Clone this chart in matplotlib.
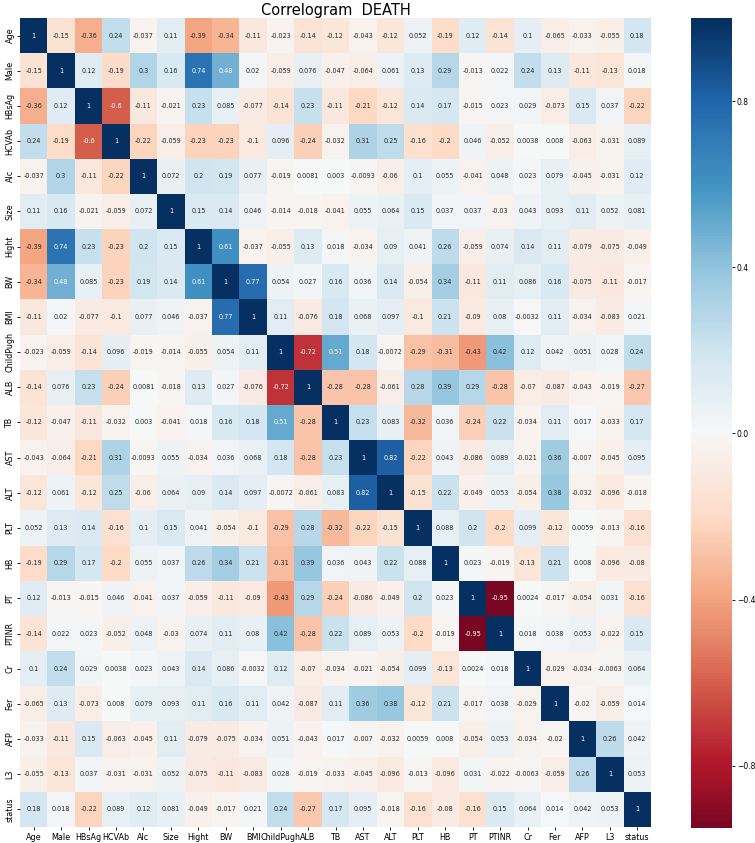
# -*- coding: utf-8 -*-
import numpy as np
import pandas as pd
import matplotlib
matplotlib.use('Agg')
import matplotlib.pyplot as plt
import seaborn as sns

# Variable names (rows / columns of the correlogram)
labels = ['Age', 'Male', 'HBsAg', 'HCVAb', 'Alc', 'Size', 'Hight', 'BW', 'BMI',
          'ChildPugh', 'ALB', 'TB', 'AST', 'ALT', 'PLT', 'HB', 'PT', 'PTINR',
          'Cr', 'Fer', 'AFP', 'L3', 'status']

# Correlation values, one row per variable
r_age = [1, -0.15, -0.36, 0.24, -0.037, 0.11, -0.39, -0.34, -0.11, -0.023, -0.14, -0.12, -0.043, -0.12, 0.052, -0.19, 0.12, -0.14, 0.1, -0.065, -0.033, -0.055, 0.18]
r_male = [-0.15, 1, 0.12, -0.19, 0.3, 0.16, 0.74, 0.48, 0.02, -0.059, 0.076, -0.047, -0.064, 0.061, 0.13, 0.29, -0.013, 0.022, 0.24, 0.13, -0.11, -0.13, 0.018]
r_hbsag = [-0.36, 0.12, 1, -0.6, -0.11, -0.021, 0.23, 0.085, -0.077, -0.14, 0.23, -0.11, -0.21, -0.12, 0.14, 0.17, -0.015, 0.023, 0.029, -0.073, 0.15, 0.037, -0.22]
r_hcvab = [0.24, -0.19, -0.6, 1, -0.22, -0.059, -0.23, -0.23, -0.1, 0.096, -0.24, -0.032, 0.31, 0.25, -0.16, -0.2, 0.046, -0.052, 0.0038, 0.008, -0.063, -0.031, 0.089]
r_alc = [-0.037, 0.3, -0.11, -0.22, 1, 0.072, 0.2, 0.19, 0.077, -0.019, 0.0081, 0.003, -0.0093, -0.06, 0.1, 0.055, -0.041, 0.048, 0.023, 0.079, -0.045, -0.031, 0.12]
r_size = [0.11, 0.16, -0.021, -0.059, 0.072, 1, 0.15, 0.14, 0.046, -0.014, -0.018, -0.041, 0.055, 0.064, 0.15, 0.037, 0.037, -0.03, 0.043, 0.093, 0.11, 0.052, 0.081]
r_hight = [-0.39, 0.74, 0.23, -0.23, 0.2, 0.15, 1, 0.61, -0.037, -0.055, 0.13, 0.018, -0.034, 0.09, 0.041, 0.26, -0.059, 0.074, 0.14, 0.11, -0.079, -0.075, -0.049]
r_bw = [-0.34, 0.48, 0.085, -0.23, 0.19, 0.14, 0.61, 1, 0.77, 0.054, 0.027, 0.16, 0.036, 0.14, -0.054, 0.34, -0.11, 0.11, 0.086, 0.16, -0.075, -0.11, -0.017]
r_bmi = [-0.11, 0.02, -0.077, -0.1, 0.077, 0.046, -0.037, 0.77, 1, 0.11, -0.076, 0.18, 0.068, 0.097, -0.1, 0.21, -0.09, 0.08, -0.0032, 0.11, -0.034, -0.083, 0.021]
r_childpugh = [-0.023, -0.059, -0.14, 0.096, -0.019, -0.014, -0.055, 0.054, 0.11, 1, -0.72, 0.51, 0.18, -0.0072, -0.29, -0.31, -0.43, 0.42, 0.12, 0.042, 0.051, 0.028, 0.24]
r_alb = [-0.14, 0.076, 0.23, -0.24, 0.0081, -0.018, 0.13, 0.027, -0.076, -0.72, 1, -0.28, -0.28, -0.061, 0.28, 0.39, 0.29, -0.28, -0.07, -0.087, -0.043, -0.019, -0.27]
r_tb = [-0.12, -0.047, -0.11, -0.032, 0.003, -0.041, 0.018, 0.16, 0.18, 0.51, -0.28, 1, 0.23, 0.083, -0.32, 0.036, -0.24, 0.22, -0.034, 0.11, 0.017, -0.033, 0.17]
r_ast = [-0.043, -0.064, -0.21, 0.31, -0.0093, 0.055, -0.034, 0.036, 0.068, 0.18, -0.28, 0.23, 1, 0.82, -0.22, 0.043, -0.086, 0.089, -0.021, 0.36, -0.007, -0.045, 0.095]
r_alt = [-0.12, 0.061, -0.12, 0.25, -0.06, 0.064, 0.09, 0.14, 0.097, -0.0072, -0.061, 0.083, 0.82, 1, -0.15, 0.22, -0.049, 0.053, -0.054, 0.38, -0.032, -0.096, -0.018]
r_plt = [0.052, 0.13, 0.14, -0.16, 0.1, 0.15, 0.041, -0.054, -0.1, -0.29, 0.28, -0.32, -0.22, -0.15, 1, 0.088, 0.2, -0.2, 0.099, -0.12, 0.0059, -0.013, -0.16]
r_hb = [-0.19, 0.29, 0.17, -0.2, 0.055, 0.037, 0.26, 0.34, 0.21, -0.31, 0.39, 0.036, 0.043, 0.22, 0.088, 1, 0.023, -0.019, -0.13, 0.21, 0.008, -0.096, -0.08]
r_pt = [0.12, -0.013, -0.015, 0.046, -0.041, 0.037, -0.059, -0.11, -0.09, -0.43, 0.29, -0.24, -0.086, -0.049, 0.2, 0.023, 1, -0.95, 0.0024, -0.017, -0.054, 0.031, -0.16]
r_ptinr = [-0.14, 0.022, 0.023, -0.052, 0.048, -0.03, 0.074, 0.11, 0.08, 0.42, -0.28, 0.22, 0.089, 0.053, -0.2, -0.019, -0.95, 1, 0.018, 0.038, 0.053, -0.022, 0.15]
r_cr = [0.1, 0.24, 0.029, 0.0038, 0.023, 0.043, 0.14, 0.086, -0.0032, 0.12, -0.07, -0.034, -0.021, -0.054, 0.099, -0.13, 0.0024, 0.018, 1, -0.029, -0.034, -0.0063, 0.064]
r_fer = [-0.065, 0.13, -0.073, 0.008, 0.079, 0.093, 0.11, 0.16, 0.11, 0.042, -0.087, 0.11, 0.36, 0.38, -0.12, 0.21, -0.017, 0.038, -0.029, 1, -0.02, -0.059, 0.014]
r_afp = [-0.033, -0.11, 0.15, -0.063, -0.045, 0.11, -0.079, -0.075, -0.034, 0.051, -0.043, 0.017, -0.007, -0.032, 0.0059, 0.008, -0.054, 0.053, -0.034, -0.02, 1, 0.26, 0.042]
r_l3 = [-0.055, -0.13, 0.037, -0.031, -0.031, 0.052, -0.075, -0.11, -0.083, 0.028, -0.019, -0.033, -0.045, -0.096, -0.013, -0.096, 0.031, -0.022, -0.0063, -0.059, 0.26, 1, 0.053]
r_status = [0.18, 0.018, -0.22, 0.089, 0.12, 0.081, -0.049, -0.017, 0.021, 0.24, -0.27, 0.17, 0.095, -0.018, -0.16, -0.08, -0.16, 0.15, 0.064, 0.014, 0.042, 0.053, 1]

rows = [r_age, r_male, r_hbsag, r_hcvab, r_alc, r_size, r_hight, r_bw, r_bmi,
        r_childpugh, r_alb, r_tb, r_ast, r_alt, r_plt, r_hb, r_pt, r_ptinr,
        r_cr, r_fer, r_afp, r_l3, r_status]

corr = pd.DataFrame(rows, index=labels, columns=labels)

# Figure and axes placement (pixels of a 755x843 canvas)
fig = plt.figure(figsize=(7.55, 8.43), dpi=100)
W, H = 755.0, 843.0
ax = fig.add_axes([20 / W, 1 - 827 / H, 631 / W, 809 / H])
cax = fig.add_axes([691 / W, 1 - 828 / H, 41 / W, 810 / H])

sns.heatmap(corr, ax=ax, cbar_ax=cax, cmap='RdBu', center=0,
            annot=True, annot_kws={'size': 4.7})

ax.set_xticklabels(labels, rotation=0, fontsize=5.8)
ax.set_yticklabels(labels, rotation=90, va='center', fontsize=5.8)
ax.tick_params(length=2, width=0.6, pad=2)
ax.set_title('Correlogram  DEATH', fontsize=10.5, pad=2)

cax.set_yticks([0.8, 0.4, 0.0, -0.4, -0.8])
cax.tick_params(labelsize=5.5, length=2, width=0.6, pad=1.5)

plt.savefig('out.png', dpi=100)
